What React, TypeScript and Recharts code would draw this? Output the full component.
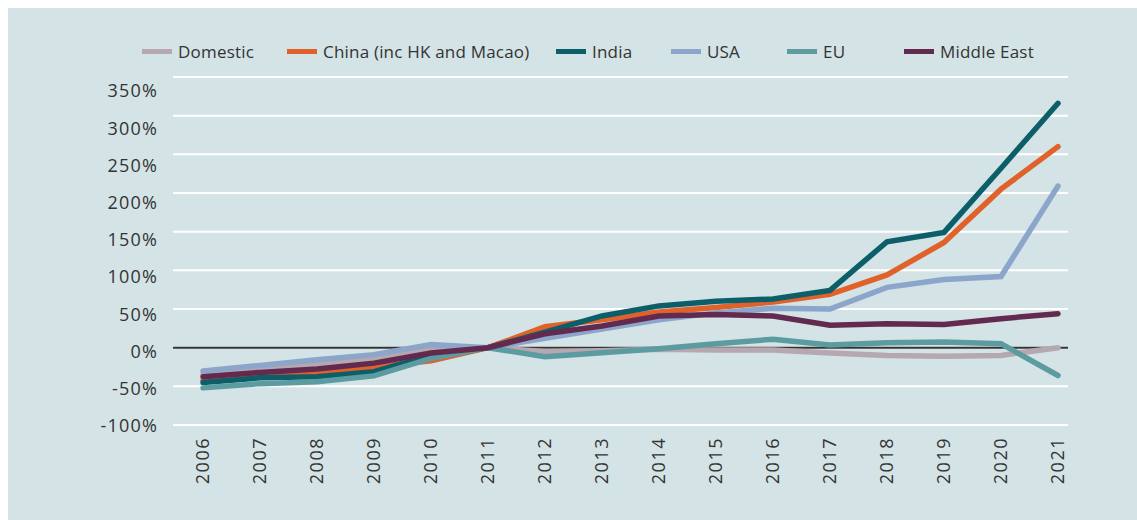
import React from "react";
import { LineChart, Line, XAxis, YAxis, CartesianGrid, ReferenceLine } from "recharts";

const years = ["2006", "2007", "2008", "2009", "2010", "2011", "2012", "2013", "2014", "2015", "2016", "2017", "2018", "2019", "2020", "2021"];

// growth vs 2011, in %
const domestic = [-34, -27, -21, -15, -2, 0, -5, -4, -2, -3, -3, -7, -10, -11, -10, 0];
const china = [-42, -36, -33, -25, -17, 0, 27, 36, 46, 52, 59, 69, 94, 136, 205, 260];
const india = [-45, -39, -37.5, -31, -10, 0, 20, 41, 54, 60, 63, 74, 137, 149, 232, 316];
const usa = [-30, -23, -15.5, -9, 4, 0, 12, 24, 36, 45, 51, 50, 78, 88, 92, 209];
const eu = [-52, -46.5, -44, -36.5, -14, 0, -11.6, -6.5, -1.5, 5, 11, 3.4, 6.4, 7.2, 5.2, -36];
const middleEast = [-37.5, -32, -27.6, -20, -7, 0, 18, 28, 41, 43, 41, 29, 31, 30, 37.5, 44];

const yTicks = [-100, -50, 0, 50, 100, 150, 200, 250, 300, 350];

const series = [
  { key: "domestic", name: "Domestic", color: "#b5a8b0", width: 145 },
  { key: "china", name: "China (inc HK and Macao)", color: "#e0622a", width: 269 },
  { key: "india", name: "India", color: "#0c5f69", width: 115 },
  { key: "usa", name: "USA", color: "#8ba5cb", width: 116 },
  { key: "eu", name: "EU", color: "#5c9ca1", width: 117 },
  { key: "middleEast", name: "Middle East", color: "#632a50", width: 140 },
];

const rows = years.map((year, i) => ({
  year,
  domestic: domestic[i],
  china: china[i],
  india: india[i],
  usa: usa[i],
  eu: eu[i],
  middleEast: middleEast[i],
}));

const FONT = "'Open Sans', sans-serif";
const TEXT = "#333333";

function PctTick({ x, y, payload }: any) {
  // labels drift a little below their gridlines as in the original
  const shift = 0.3 + (payload.value + 100) * 0.029;
  return (
    <text x={x - 15} y={y + shift} textAnchor="end" dominantBaseline="central" fill={TEXT} fontSize={18} letterSpacing={1.2} fontFamily={FONT}>
      {payload.value}%
    </text>
  );
}

function YearTick({ x, y, payload }: any) {
  const ty = y + 12;
  return (
    <text x={x - 1} y={ty} transform={`rotate(-90 ${x - 1} ${ty})`} textAnchor="end" dominantBaseline="central" fill={TEXT} fontSize={18} letterSpacing={1.5} fontFamily={FONT}>
      {payload.value}
    </text>
  );
}

export default function App() {
  return (
    <div style={{ position: "absolute", left: 8, top: 8, width: 1129, height: 512, background: "#d3e3e6", fontFamily: FONT }}>
      <div style={{ position: "absolute", left: 134, top: 32, display: "flex", alignItems: "center" }}>
        {series.map((s) => (
          <div key={s.key} style={{ width: s.width, display: "flex", alignItems: "center", color: TEXT, fontSize: 17, letterSpacing: 0.2, whiteSpace: "nowrap" }}>
            <span style={{ display: "inline-block", width: 30, height: 5, background: s.color, marginRight: 6 }} />
            {s.name}
          </div>
        ))}
      </div>
      <LineChart width={1129} height={512} data={rows} margin={{ top: 69, right: 69, bottom: 35, left: 0 }}>
        <CartesianGrid vertical={false} stroke="#ffffff" strokeWidth={2} />
        <XAxis
          dataKey="year"
          axisLine={false}
          tickLine={false}
          tickSize={0}
          tickMargin={0}
          interval={0}
          height={60}
          padding={{ left: 30, right: 10 }}
          tick={(p: any) => <YearTick {...p} />}
        />
        <YAxis
          domain={[-100, 350]}
          ticks={yTicks}
          axisLine={false}
          tickLine={false}
          tickSize={0}
          tickMargin={0}
          width={165}
          tick={(p: any) => <PctTick {...p} />}
        />
        <ReferenceLine y={0} stroke="#333333" strokeWidth={2} />
        {series.map((s) => (
          <Line
            key={s.key}
            type="linear"
            dataKey={s.key}
            name={s.name}
            stroke={s.color}
            strokeWidth={5.5}
            strokeLinecap="round"
            dot={false}
            isAnimationActive={false}
          />
        ))}
      </LineChart>
    </div>
  );
}
